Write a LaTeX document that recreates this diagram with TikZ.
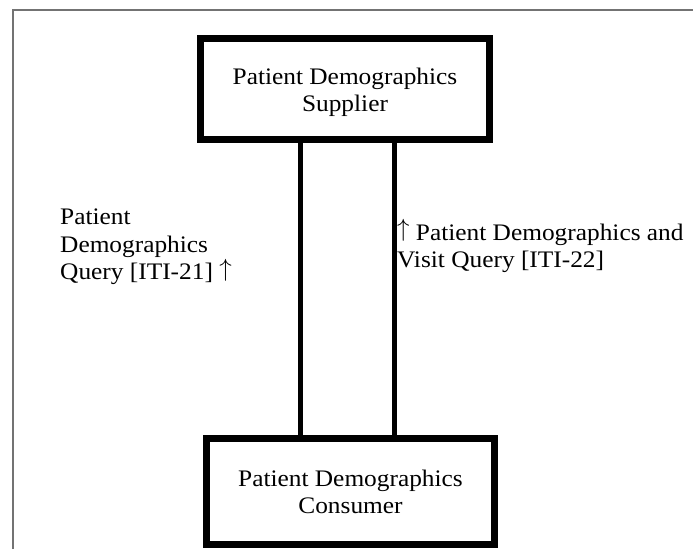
\documentclass[tikz,border=0pt]{standalone}
\usepackage{fontspec}
\setmainfont{Liberation Serif}[FakeStretch=1.07]
% tall thin upward arrow used in the transaction labels
\newcommand{\txarrow}{\raisebox{3.5pt}{$\uparrow$}}
\begin{document}
\begin{tikzpicture}[x=1pt,y=-1pt,
  actor/.style={draw=black, line width=7pt, fill=white, inner sep=0pt},
  actortext/.style={inner sep=0pt, align=center, font=\fontsize{23.7}{26.5}\selectfont},
  link/.style={draw=black, line width=5pt},
  txn/.style={inner sep=0pt, align=left, font=\fontsize{23.7}{27.5}\selectfont},
  frame/.style={draw=black!55, line width=1.5pt}]
  \useasboundingbox (0,0) rectangle (693,549);
  % outer frame (only top and left edges are inside the page)
  \draw[frame] (13,549) -- (13,10) -- (693,10);

  % actors
  \node[actor, minimum width=289pt, minimum height=101pt] (sup) at (345,89) {};
  \node[actortext] (supt) at ([yshift=-3.5pt]sup.center)
    {Patient Demographics\\Supplier};
  \node[actor, minimum width=288pt, minimum height=106pt] (con) at (350.5,491.5) {};
  \node[actortext] (cont) at ([yshift=-0.5pt]con.center)
    {Patient Demographics\\Consumer};

  % transaction lines
  \coordinate (lx) at (300,0);
  \coordinate (rx) at (394.5,0);
  \draw[link] (sup.south -| lx) -- (con.north -| lx);
  \draw[link] (sup.south -| rx) -- (con.north -| rx);

  % transaction labels
  \node[txn, anchor=north west] (q21) at (60,209)
    {Patient\\Demographics\\Query [ITI-21] \txarrow};
  \node[txn, anchor=north west] (q22) at (397,219.5)
    {\txarrow\ Patient Demographics and\\Visit Query [ITI-22]};
\end{tikzpicture}
\end{document}
